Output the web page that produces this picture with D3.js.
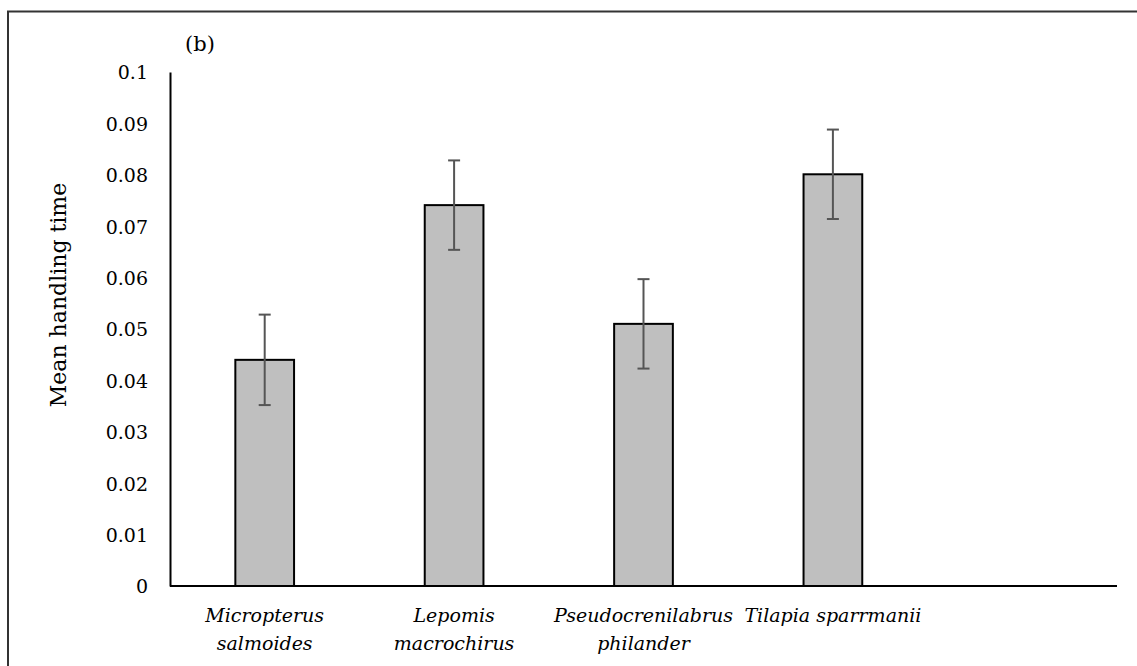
<!DOCTYPE html>
<html>
<head>
<meta charset="utf-8">
<script src="https://cdn.jsdelivr.net/npm/d3@7"></script>
<style>
  body { margin: 0; background: #fff; }
</style>
</head>
<body>
<div id="chart"></div>
<script>
// data
const species = ["Micropterus salmoides", "Lepomis macrochirus", "Pseudocrenilabrus philander", "Tilapia sparrmanii"];
const labelLines = [["Micropterus", "salmoides"], ["Lepomis", "macrochirus"], ["Pseudocrenilabrus", "philander"], ["Tilapia sparrmanii"]];
const meanHandling = [0.044, 0.0741, 0.051, 0.0801];
const errHandling = [0.0088, 0.0087, 0.0087, 0.0087];
const yTicks = [0, 0.01, 0.02, 0.03, 0.04, 0.05, 0.06, 0.07, 0.08, 0.09, 0.1];

const W = 1137, H = 666;
const serif = "DejaVu Serif";
const margin = { top: 72, left: 170 },
  plotW = 947,
  plotH = 514;

const svg = d3.select("#chart").append("svg")
  .attr("width", W).attr("height", H)
  .attr("font-family", serif);

// outer frame (right and bottom edges run off the picture)
svg.append("path")
  .attr("d", `M8,${H + 5} V11.5 H${W + 5}`)
  .attr("fill", "none").attr("stroke", "#333").attr("stroke-width", 2);

const g = svg.append("g").attr("transform", `translate(${margin.left},${margin.top})`);

// five slots on the axis, the last one is empty
const x = d3.scaleBand().domain(species).range([0, plotW * 4 / 5]).paddingInner(0.69).paddingOuter(0.345);
const y = d3.scaleLinear().domain([0, 0.1]).range([plotH, 0]);

// y axis
const yAxis = g.append("g").call(d3.axisLeft(y).tickValues(yTicks).tickSize(0).tickPadding(22).tickFormat(d3.format("~g")));
yAxis.attr("font-family", serif).attr("font-size", 19);
yAxis.select(".domain").attr("stroke", "#000").attr("stroke-width", 2);
yAxis.selectAll("text")
  .attr("fill", "#000")
  .attr("dy", "0.36em");

// bars
g.selectAll("rect.bar")
  .data(species)
  .join("rect")
  .attr("class", "bar")
  .attr("x", (d) => x(d))
  .attr("y", (d, i) => y(meanHandling[i]))
  .attr("width", x.bandwidth())
  .attr("height", (d, i) => y(0) - y(meanHandling[i]))
  .attr("fill", "#bfbfbf")
  .attr("stroke", "#000")
  .attr("stroke-width", 2);

// error bars
const eb = g.selectAll("g.err").data(species).join("g").attr("class", "err")
  .attr("stroke", "#555").attr("stroke-width", 2);
eb.append("line")
  .attr("x1", (d) => x(d) + x.bandwidth() / 2).attr("x2", (d) => x(d) + x.bandwidth() / 2)
  .attr("y1", (d, i) => y(meanHandling[i] + errHandling[i]))
  .attr("y2", (d, i) => y(meanHandling[i] - errHandling[i]));
[1, -1].forEach((s) => {
  eb.append("line")
    .attr("x1", (d) => x(d) + x.bandwidth() / 2 - 6).attr("x2", (d) => x(d) + x.bandwidth() / 2 + 6)
    .attr("y1", (d, i) => y(meanHandling[i] + s * errHandling[i]))
    .attr("y2", (d, i) => y(meanHandling[i] + s * errHandling[i]));
});

// x axis line, full width
g.append("line")
  .attr("x1", 0).attr("x2", plotW)
  .attr("y1", plotH).attr("y2", plotH)
  .attr("stroke", "#000").attr("stroke-width", 2);

// category labels, italic, wrapped
const xl = g.selectAll("text.xlab").data(species).join("text")
  .attr("class", "xlab")
  .attr("text-anchor", "middle")
  .attr("transform", (d) => `translate(${x(d) + x.bandwidth() / 2},${plotH + 36})`)
  .attr("font-size", 19)
  .attr("font-style", "italic");
xl.selectAll("tspan")
  .data((d, i) => labelLines[i])
  .join("tspan")
  .attr("x", 0)
  .attr("dy", (d, j) => (j === 0 ? 0 : 28))
  .text((d) => d);

// y title
svg.append("text")
  .attr("transform", `translate(66,295) rotate(-90)`)
  .attr("text-anchor", "middle")
  .attr("font-size", 22)
  .text("Mean handling time");

// panel letter
svg.append("text")
  .attr("x", 185).attr("y", 51)
  .attr("font-size", 21)
  .text("(b)");
</script>
</body>
</html>
